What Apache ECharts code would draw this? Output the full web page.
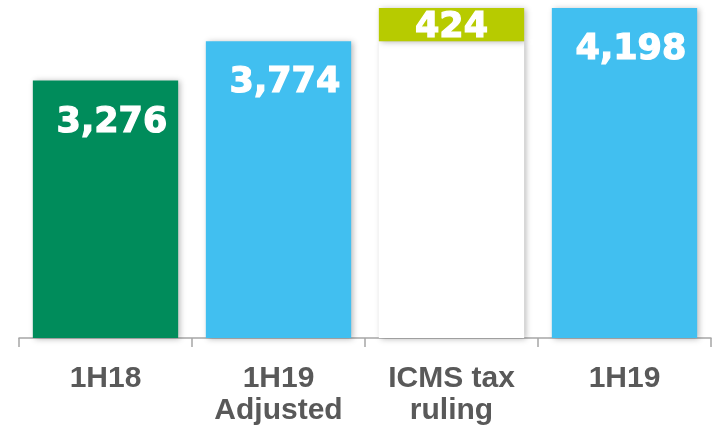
<!DOCTYPE html>
<html>
<head>
<meta charset="utf-8">
<script src="https://cdn.jsdelivr.net/npm/echarts@6/dist/echarts.min.js"></script>
<style>
	html, body { margin: 0; padding: 0; background: #fff; }
	#chart { width: 717px; height: 432px; }
</style>
</head>
<body>
<div id="chart"></div>
<script>
// 数据 data
var categories = ['1H18', '1H19\nAdjusted', 'ICMS tax\nruling', '1H19']
var baseValues = [3276, 3774, 3774, 4198]     // 底部柱子 (ICMS 那根是白色的占位)
var deltaValues = ['-', '-', 424, '-']         // 叠加在上面的增量
var barColors = ['#008C5B', '#41BFF0', '#FFFFFF', '#41BFF0']
var deltaColor = '#B7CB00'

var shadow = {
	shadowBlur: 6,
	shadowOffsetX: 2,
	shadowOffsetY: 1,
	shadowColor: 'rgba(0,0,0,0.28)'
}

var myChart = echarts.init(document.getElementById('chart'))

// 白色粗体数值, 加一点描边让字更粗
var labelFont = {
	color: '#fff',
	fontFamily: 'DejaVu Sans',
	fontWeight: 'bold',
	fontSize: 35,
	textBorderColor: '#fff',
	textBorderWidth: 1.2
}

var option = {
	animation: false,
	grid: { left: 19, right: 6, top: 0, bottom: 94 },
	xAxis: {
		type: 'category',
		data: categories,
		axisLine: { lineStyle: { color: '#A6A6A6', width: 1.5 } },
		axisTick: { show: true, length: 9, lineStyle: { color: '#A6A6A6', width: 1.5 } },
		axisLabel: {
			color: '#595959',
			fontFamily: 'Liberation Sans',
			fontWeight: 'bold',
			fontSize: 30,
			lineHeight: 32,
			margin: 25,
			interval: 0
		}
	},
	yAxis: { type: 'value', min: 0, max: 4300, show: false },
	series: [{
		name: 'base',
		type: 'bar',
		stack: 'w',
		barWidth: '84%',
		data: baseValues.map(function(v, i) {
			return {
				value: v,
				itemStyle: Object.assign({ color: barColors[i] }, shadow),
				// 白色占位柱不显示数值
				label: { show: i !== 2 }
			}
		}),
		label: Object.assign({
			position: ['92.5%', 42],
			align: 'right',
			verticalAlign: 'middle',
			formatter: function(p) { return p.value.toLocaleString('en-US') }
		}, labelFont)
	}, {
		name: 'delta',
		type: 'bar',
		stack: 'w',
		barWidth: '84%',
		data: deltaValues,
		itemStyle: Object.assign({ color: deltaColor }, shadow),
		label: Object.assign({ show: true, position: 'inside', offset: [0, 3] }, labelFont)
	}]
}

myChart.setOption(option)
</script>
</body>
</html>
